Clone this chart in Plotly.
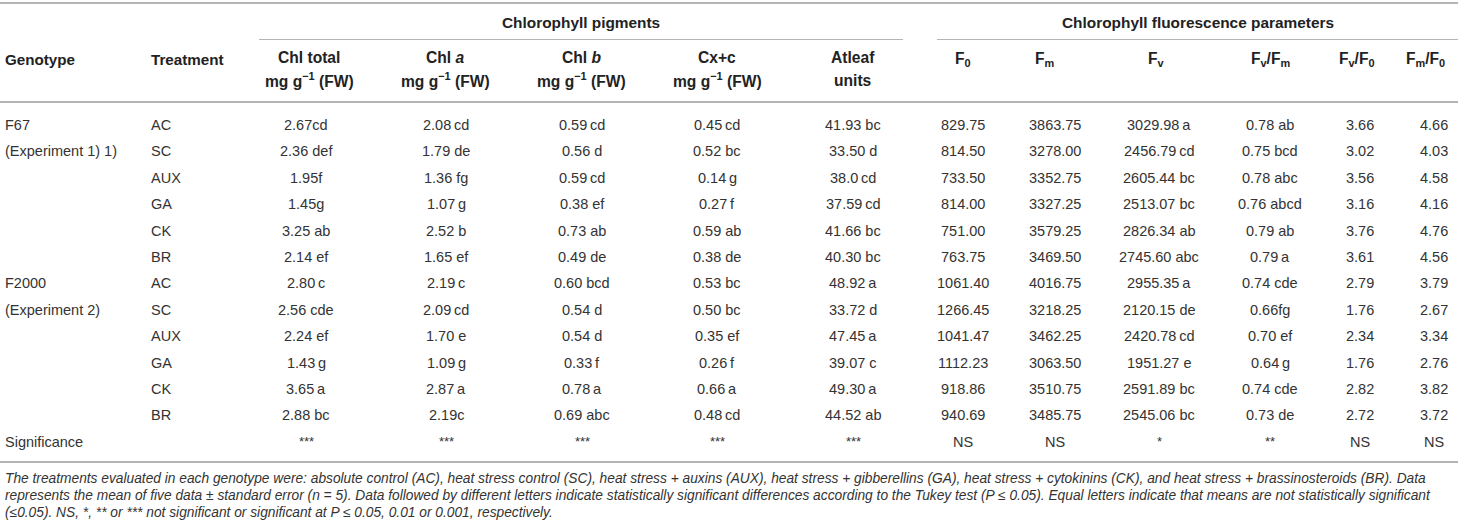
import plotly.graph_objects as go

# table contents
genotype_col = ["F67", "(Experiment 1) 1)", "", "", "", "",
                "F2000", "(Experiment 2)", "", "", "", "", "Significance"]
treatments = ["AC", "SC", "AUX", "GA", "CK", "BR"] * 2

chl_total = ["2.67cd", "2.36 def", "1.95f", "1.45g", "3.25 ab", "2.14 ef",
             "2.80\u2009c", "2.56 cde", "2.24 ef", "1.43\u2009g", "3.65\u2009a", "2.88 bc"]
chl_a = ["2.08\u2009cd", "1.79 de", "1.36 fg", "1.07\u2009g", "2.52 b", "1.65 ef",
         "2.19\u2009c", "2.09\u2009cd", "1.70 e", "1.09\u2009g", "2.87\u2009a", "2.19c"]
chl_b = ["0.59\u2009cd", "0.56 d", "0.59\u2009cd", "0.38 ef", "0.73 ab", "0.49 de",
         "0.60 bcd", "0.54 d", "0.54 d", "0.33\u2009f", "0.78\u2009a", "0.69 abc"]
cx_c = ["0.45\u2009cd", "0.52 bc", "0.14\u2009g", "0.27\u2009f", "0.59 ab", "0.38 de",
        "0.53 bc", "0.50 bc", "0.35 ef", "0.26\u2009f", "0.66\u2009a", "0.48\u2009cd"]
atleaf = ["41.93 bc", "33.50 d", "38.0\u2009cd", "37.59\u2009cd", "41.66 bc", "40.30 bc",
          "48.92\u2009a", "33.72 d", "47.45\u2009a", "39.07 c", "49.30\u2009a", "44.52 ab"]
f0 = ["829.75", "814.50", "733.50", "814.00", "751.00", "763.75",
      "1061.40", "1266.45", "1041.47", "1112.23", "918.86", "940.69"]
fm = ["3863.75", "3278.00", "3352.75", "3327.25", "3579.25", "3469.50",
      "4016.75", "3218.25", "3462.25", "3063.50", "3510.75", "3485.75"]
fv = ["3029.98\u2009a", "2456.79\u2009cd", "2605.44 bc", "2513.07 bc", "2826.34 ab", "2745.60 abc",
      "2955.35\u2009a", "2120.15 de", "2420.78\u2009cd", "1951.27 e", "2591.89 bc", "2545.06 bc"]
fv_fm = ["0.78 ab", "0.75 bcd", "0.78 abc", "0.76 abcd", "0.79 ab", "0.79\u2009a",
         "0.74 cde", "0.66fg", "0.70 ef", "0.64\u2009g", "0.74 cde", "0.73 de"]
fv_f0 = ["3.66", "3.02", "3.56", "3.16", "3.76", "3.61",
         "2.79", "1.76", "2.34", "1.76", "2.82", "2.72"]
fm_f0 = ["4.66", "4.03", "4.58", "4.16", "4.76", "4.56",
         "3.79", "2.67", "3.34", "2.76", "3.82", "3.72"]
significance = ["***", "***", "***", "***", "***", "NS", "NS", "*", "**", "NS", "NS"]

unit = "mg g<sup>\u22121</sup> (FW)"
col_heads = [("Chl total", unit), ("Chl <i>a</i>", unit), ("Chl <i>b</i>", unit),
             ("Cx+c", unit), ("Atleaf", "units"),
             ("F<sub>0</sub>", ""), ("F<sub>m</sub>", ""), ("F<sub>v</sub>", ""),
             ("F<sub>v</sub>/F<sub>m</sub>", ""), ("F<sub>v</sub>/F<sub>0</sub>", ""),
             ("F<sub>m</sub>/F<sub>0</sub>", "")]
groups = ["Chlorophyll pigments", "Chlorophyll fluorescence parameters"]

footnote = [
    "The treatments evaluated in each genotype were: absolute control (AC), heat stress control (SC), "
    "heat stress + auxins (AUX), heat stress + gibberellins (GA), heat stress + cytokinins (CK), "
    "and heat stress + brassinosteroids (BR). Data",
    "represents the mean of five data \u00b1 standard error (n = 5). Data followed by different letters "
    "indicate statistically significant differences according to the Tukey test (P \u2264 0.05). "
    "Equal letters indicate that means are not statistically significant",
    "(\u22640.05). NS, *, ** or *** not significant or significant at P \u2264 0.05, 0.01 or 0.001, respectively.",
]

data_cols = [chl_total, chl_a, chl_b, cx_c, atleaf, f0, fm, fv, fv_fm, fv_f0, fm_f0]

# layout positions (pixels)
W, H = 1458, 530
head_x = [309, 445, 581, 717, 853, 963, 1045, 1156, 1270, 1357, 1425]
data_x = [306, 446, 582, 717, 853, 963, 1055, 1159, 1270, 1360, 1434]
row_y0, row_step = 125, 26.4
FONT = "Liberation Sans, Arial, sans-serif"
TXT = "#333333"
HEAD = "#222222"
LINE = "#b4b4b4"

ann = []


def add(x, y, text, size=14.5, anchor="center", color=TXT, bold=False):
    ann.append(dict(x=x, y=y, xref="x", yref="y", text=("<b>%s</b>" % text) if bold else text,
                    showarrow=False, xanchor=anchor, yanchor="middle",
                    font=dict(family=FONT, size=size, color=color)))


# group headers
add(581, 22, groups[0], size=15.4, bold=True, color=HEAD)
add(1198, 22, groups[1], size=15.4, bold=True, color=HEAD)

# column headers
add(3, 59, "Genotype", size=15.2, anchor="left", bold=True, color=HEAD)
add(149, 59, "Treatment", size=15.2, anchor="left", bold=True, color=HEAD)
for (l1, l2), x in zip(col_heads, head_x):
    if l2:
        add(x, 57, l1, size=15.6, bold=True, color=HEAD)
        add(x, 80, l2, size=15.6, bold=True, color=HEAD)
    else:
        add(x, 59, l1, size=15.6, bold=True, color=HEAD)

# body
for i, g in enumerate(genotype_col):
    if g:
        add(3, row_y0 + i * row_step, g, anchor="left")
for i, t in enumerate(treatments):
    add(149, row_y0 + i * row_step, t, anchor="left")
for col, x in zip(data_cols, data_x):
    for i, v in enumerate(col):
        add(x, row_y0 + i * row_step, v)
for s, x in zip(significance, data_x):
    add(x, row_y0 + 12 * row_step, s, size=13 if "*" in s else 14.5)

# footnote
for i, line in enumerate(footnote):
    add(3, 478 + i * 17, "<i>%s</i>" % line, size=13.75, anchor="left", color=TXT)

shapes = [
    dict(type="line", x0=0, x1=W, y0=3, y1=3, line=dict(color=LINE, width=2)),
    dict(type="line", x0=259, x1=903, y0=39.5, y1=39.5, line=dict(color=LINE, width=1.2)),
    dict(type="line", x0=937, x1=W, y0=39.5, y1=39.5, line=dict(color=LINE, width=1.2)),
    dict(type="line", x0=0, x1=W, y0=102, y1=102, line=dict(color=LINE, width=2)),
    dict(type="line", x0=0, x1=W, y0=462, y1=462, line=dict(color=LINE, width=2)),
]
for s in shapes:
    s.update(xref="x", yref="y")

fig = go.Figure()
fig.update_layout(
    width=W, height=H,
    margin=dict(l=0, r=0, t=0, b=0),
    paper_bgcolor="white", plot_bgcolor="white",
    xaxis=dict(range=[0, W], visible=False, fixedrange=True),
    yaxis=dict(range=[H, 0], visible=False, fixedrange=True),
    annotations=ann, shapes=shapes, showlegend=False,
)
# page body has a default 8px margin; drop it so the figure fills the window
fig.write_html("out.html", config={"displayModeBar": False},
               post_script="document.body.style.margin='0';document.body.style.overflow='hidden';")
